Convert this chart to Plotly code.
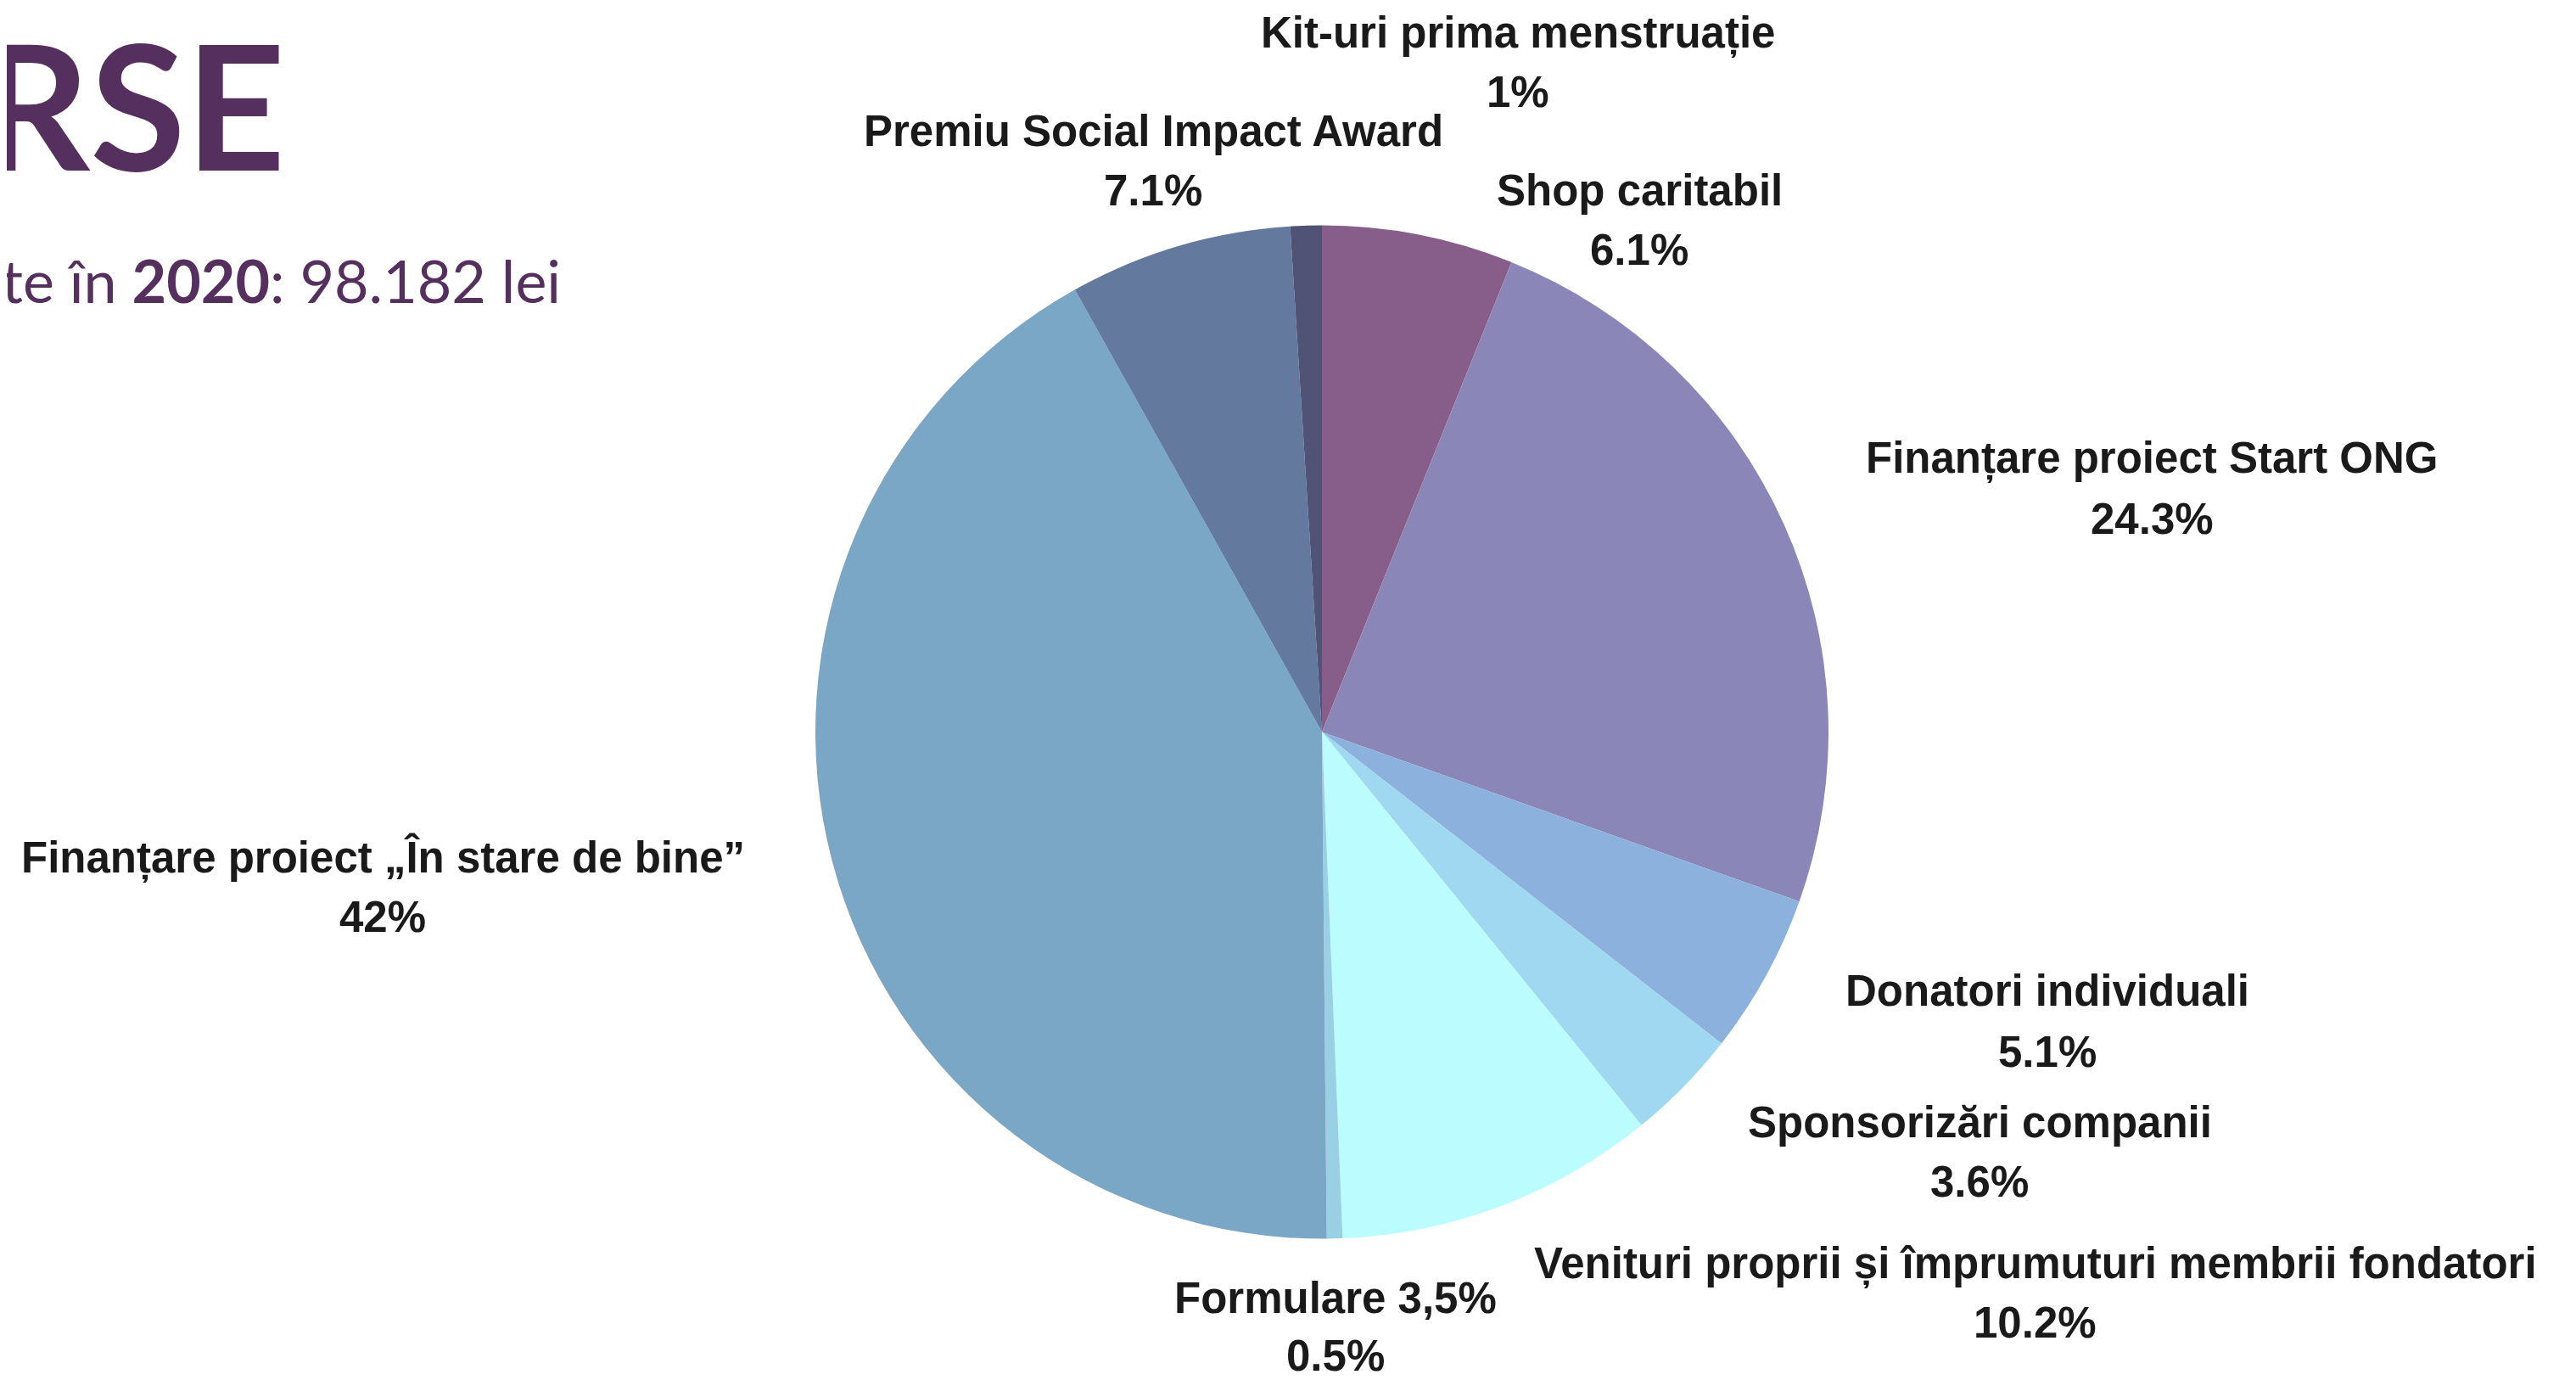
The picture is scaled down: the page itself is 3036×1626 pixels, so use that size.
import plotly.graph_objects as go

# ---- data ----
categories = [
    "Shop caritabil",
    "Finanțare proiect Start ONG",
    "Donatori individuali",
    "Sponsorizări companii",
    "Venituri proprii și împrumuturi membrii fondatori",
    "Formulare 3,5%",
    "Finanțare proiect „În stare de bine”",
    "Premiu Social Impact Award",
    "Kit-uri prima menstruație",
]
shares = [6.1, 24.3, 5.1, 3.6, 10.2, 0.5, 42, 7.1, 1]
colors = ["#875E8A", "#8A87B8", "#8DB1DD", "#9FD8F0", "#BBFDFE",
          "#9AD0E3", "#7BA7C6", "#637A9E", "#505375"]

# ---- layout helpers (page pixels of the 3036x1626 window) ----
W, H = 3036, 1626
OFF = 8                      # default body margin of the html page
FW, FH = W - 2 * OFF, H - 2 * OFF
S = W / 1568


def px(x):
    return (x - OFF) / FW


def py(y):
    return 1 - (y - OFF) / FH


label_x = [998, 1310, 1246, 1205, 1239, 813, 233, 702, 924]
label_y1 = [116, 279, 603, 683, 769, 790, 522, 80, 20]
label_y2 = [152, 316, 640, 719, 805, 825, 558, 116, 56]

fig = go.Figure()
fig.add_trace(go.Pie(
    labels=categories,
    values=shares,
    sort=False,
    direction="clockwise",
    rotation=0,
    marker=dict(colors=colors, line=dict(width=0)),
    textinfo="none",
    hoverinfo="label+percent",
    showlegend=False,
    domain=dict(x=[px(961), px(2155)], y=[py(1460), py(265)]),
))

lab_font = dict(family="Liberation Sans, Arial, sans-serif", size=51, color="#1a1a1a")
for name, v, x, y1, y2 in zip(categories, shares, label_x, label_y1, label_y2):
    fig.add_annotation(text=f"<b>{name}</b>", x=px(x * S), y=py(y1 * S),
                       xref="paper", yref="paper", xanchor="center", yanchor="middle",
                       showarrow=False, font=lab_font)
    fig.add_annotation(text=f"<b>{v:g}%</b>", x=px(x * S), y=py(y2 * S),
                       xref="paper", yref="paper", xanchor="center", yanchor="middle",
                       showarrow=False, font=lab_font)

# title (cropped at the left edge, like the reference)
fig.add_annotation(text="<b>RESURSE</b>", x=px(338), y=py(122),
                   xref="paper", yref="paper", xanchor="right", yanchor="middle",
                   showarrow=False,
                   font=dict(family="Lato, sans-serif", size=205, color="#55305E"))
fig.add_annotation(text="te în <b>2020</b>: 98.182 lei", x=px(0), y=py(330),
                   xref="paper", yref="paper", xanchor="left", yanchor="middle",
                   showarrow=False,
                   font=dict(family="Lato, sans-serif", size=70, color="#55305E"))

fig.update_layout(width=FW, height=FH, margin=dict(l=0, r=0, t=0, b=0),
                  paper_bgcolor="white", plot_bgcolor="white")
fig.write_html("out.html")
